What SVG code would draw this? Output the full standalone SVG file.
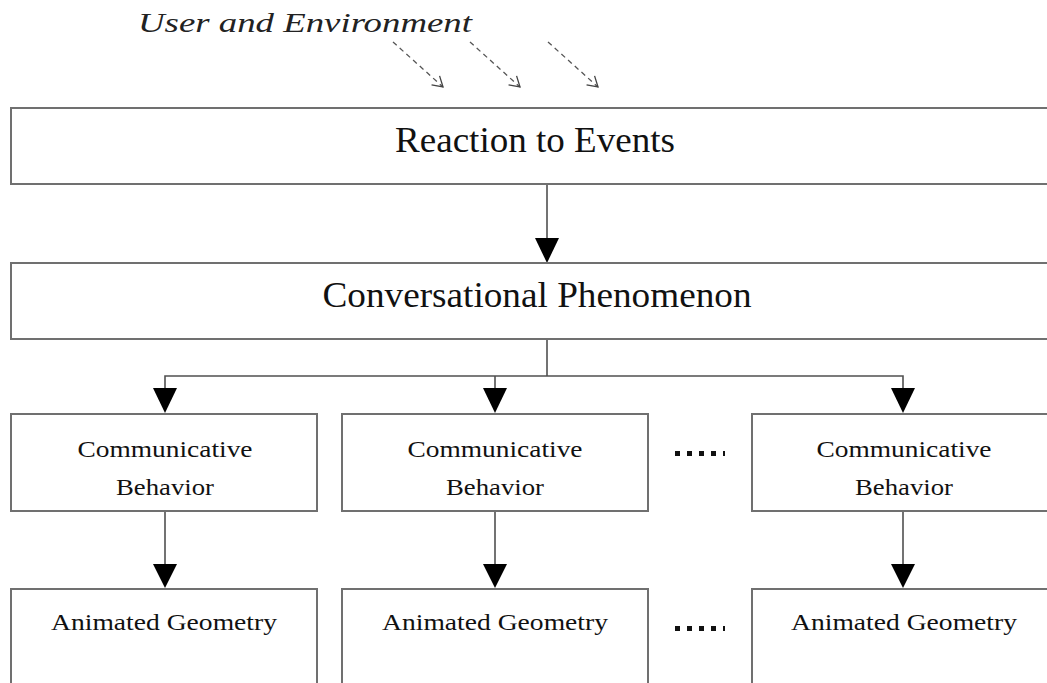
<svg xmlns="http://www.w3.org/2000/svg" width="1047" height="683" viewBox="0 0 1047 683">
<style>
.box{fill:#fff;stroke:#707070;stroke-width:2}
.ln{fill:none;stroke:#505050;stroke-width:1.6}
.dash{fill:none;stroke:#555;stroke-width:1.3;stroke-dasharray:5 4}
.head{fill:#000}
.t{font-family:"Liberation Serif","Times New Roman",serif;fill:#111;text-anchor:middle}
.dots{fill:#111}
</style>
<defs>
<marker id="open" markerWidth="14" markerHeight="14" refX="12" refY="7" orient="auto" markerUnits="userSpaceOnUse">
<path d="M2,1 L12,7 L2,13" fill="none" stroke="#444" stroke-width="1.3"/>
</marker>
</defs>
<rect width="1047" height="683" fill="#fff"/>
<text x="305" y="32" font-family="Liberation Serif,'Times New Roman',serif" font-style="italic" font-size="28" fill="#222" text-anchor="middle" textLength="334" lengthAdjust="spacingAndGlyphs">User and Environment</text>
<g id="connectors">
<line class="dash" x1="393" y1="42" x2="443" y2="87" marker-end="url(#open)"/>
<line class="dash" x1="470" y1="42" x2="520" y2="87" marker-end="url(#open)"/>
<line class="dash" x1="548" y1="42" x2="598" y2="87" marker-end="url(#open)"/>
<line class="ln" x1="547" y1="184" x2="547" y2="240"/>
<polygon class="head" points="535,238 559,238 547,263"/>
<polyline class="ln" points="547,339 547,376"/>
<polyline class="ln" points="165,390 165,376 903,376 903,390"/>
<line class="ln" x1="495" y1="376" x2="495" y2="390"/>
<polygon class="head" points="153,388 177,388 165,413"/>
<polygon class="head" points="483,388 507,388 495,413"/>
<polygon class="head" points="891,388 915,388 903,413"/>
<line class="ln" x1="165" y1="511" x2="165" y2="566"/>
<line class="ln" x1="495" y1="511" x2="495" y2="566"/>
<line class="ln" x1="903" y1="511" x2="903" y2="566"/>
<polygon class="head" points="153,564 177,564 165,588"/>
<polygon class="head" points="483,564 507,564 495,588"/>
<polygon class="head" points="891,564 915,564 903,588"/>
</g>
<g id="reaction">
<rect class="box" x="11" y="108" width="1060" height="76"/>
<text class="t" x="535" y="152" font-size="36" textLength="280" lengthAdjust="spacingAndGlyphs">Reaction to Events</text>
</g>
<g id="conversational">
<rect class="box" x="11" y="263" width="1060" height="76"/>
<text class="t" x="537" y="307" font-size="36" textLength="429" lengthAdjust="spacingAndGlyphs">Conversational Phenomenon</text>
</g>
<g id="cb1">
<rect class="box" x="11" y="414" width="306" height="97"/>
<text class="t" x="165" y="457" font-size="23" textLength="175" lengthAdjust="spacingAndGlyphs">Communicative</text>
<text class="t" x="165" y="495" font-size="23" textLength="98" lengthAdjust="spacingAndGlyphs">Behavior</text>
</g>
<g id="cb2">
<rect class="box" x="342" y="414" width="306" height="97"/>
<text class="t" x="495" y="457" font-size="23" textLength="175" lengthAdjust="spacingAndGlyphs">Communicative</text>
<text class="t" x="495" y="495" font-size="23" textLength="98" lengthAdjust="spacingAndGlyphs">Behavior</text>
</g>
<g id="cb3">
<rect class="box" x="752" y="414" width="306" height="97"/>
<text class="t" x="904" y="457" font-size="23" textLength="175" lengthAdjust="spacingAndGlyphs">Communicative</text>
<text class="t" x="904" y="495" font-size="23" textLength="98" lengthAdjust="spacingAndGlyphs">Behavior</text>
</g>
<g id="ag1">
<rect class="box" x="11" y="589" width="306" height="110"/>
<text class="t" x="164" y="630" font-size="23" textLength="226" lengthAdjust="spacingAndGlyphs">Animated Geometry</text>
</g>
<g id="ag2">
<rect class="box" x="342" y="589" width="306" height="110"/>
<text class="t" x="495" y="630" font-size="23" textLength="226" lengthAdjust="spacingAndGlyphs">Animated Geometry</text>
</g>
<g id="ag3">
<rect class="box" x="752" y="589" width="306" height="110"/>
<text class="t" x="904" y="630" font-size="23" textLength="226" lengthAdjust="spacingAndGlyphs">Animated Geometry</text>
</g>
<g id="ellipsis1" class="dots">
<rect x="675" y="451" width="5" height="5"/><rect x="687" y="451" width="5" height="5"/><rect x="699" y="451" width="5" height="5"/><rect x="711" y="451" width="5" height="5"/><rect x="723" y="451" width="2" height="5"/>
</g>
<g id="ellipsis2" class="dots">
<rect x="675" y="626" width="5" height="5"/><rect x="687" y="626" width="5" height="5"/><rect x="699" y="626" width="5" height="5"/><rect x="711" y="626" width="5" height="5"/><rect x="723" y="626" width="2" height="5"/>
</g>
</svg>
